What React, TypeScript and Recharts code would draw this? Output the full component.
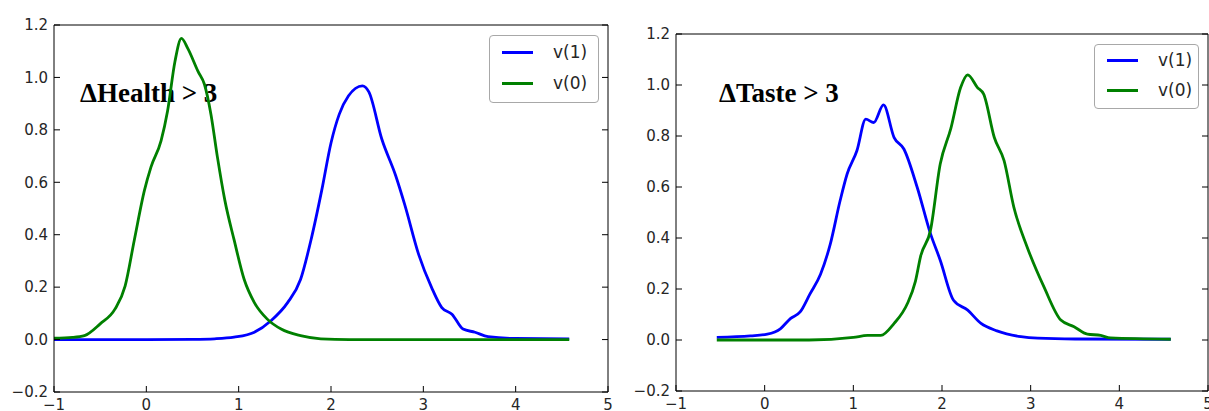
import React from 'react';
import { LineChart, Line, XAxis, YAxis, Legend } from 'recharts';

// ---- Data ----
const X_TICKS = [-1, 0, 1, 2, 3, 4, 5];
const Y_TICKS = [-0.2, 0, 0.2, 0.4, 0.6, 0.8, 1.0, 1.2];

// Left panel: ΔHealth > 3
const HEALTH_V1_X = [-1, 0, 0.5, 0.74, 0.95, 1.17, 1.35, 1.53, 1.67, 1.79, 1.9, 2.0, 2.09, 2.19, 2.34, 2.41, 2.55, 2.7, 2.8, 2.95, 3.09, 3.2, 3.31, 3.43, 3.56, 3.7, 4.0, 4.58];
const HEALTH_V1_Y = [0, 0, 0.001, 0.003, 0.009, 0.028, 0.072, 0.141, 0.229, 0.39, 0.57, 0.75, 0.86, 0.93, 0.968, 0.945, 0.765, 0.626, 0.513, 0.324, 0.198, 0.122, 0.097, 0.04, 0.028, 0.011, 0.004, 0.003];
const HEALTH_V0_X = [-1, -0.8, -0.67, -0.5, -0.34, -0.23, -0.13, -0.02, 0.05, 0.16, 0.23, 0.31, 0.38, 0.45, 0.56, 0.63, 0.7, 0.77, 0.85, 0.95, 1.06, 1.17, 1.31, 1.46, 1.67, 1.89, 2.2, 4.58];
const HEALTH_V0_Y = [0.005, 0.008, 0.015, 0.06, 0.116, 0.204, 0.38, 0.57, 0.658, 0.759, 0.872, 1.061, 1.149, 1.11, 1.023, 0.973, 0.859, 0.696, 0.532, 0.381, 0.229, 0.141, 0.078, 0.04, 0.015, 0.003, 0, 0];

// Right panel: ΔTaste > 3
const TASTE_V1_X = [-0.54, -0.16, 0.03, 0.18, 0.29, 0.4, 0.51, 0.63, 0.74, 0.85, 0.93, 1.04, 1.14, 1.23, 1.34, 1.46, 1.57, 1.72, 1.87, 1.98, 2.13, 2.29, 2.44, 2.62, 2.89, 3.08, 3.5, 4.58];
const TASTE_V1_Y = [0.01, 0.016, 0.023, 0.045, 0.084, 0.11, 0.18, 0.258, 0.376, 0.545, 0.651, 0.742, 0.866, 0.853, 0.922, 0.794, 0.749, 0.599, 0.417, 0.313, 0.156, 0.117, 0.065, 0.036, 0.013, 0.007, 0.004, 0.003];
const TASTE_V0_X = [-0.54, 0.5, 1.0, 1.16, 1.31, 1.46, 1.61, 1.7, 1.76, 1.87, 1.98, 2.1, 2.21, 2.29, 2.4, 2.47, 2.59, 2.7, 2.81, 2.96, 3.15, 3.34, 3.49, 3.64, 3.79, 3.9, 4.58];
const TASTE_V0_Y = [0, 0, 0.01, 0.018, 0.018, 0.065, 0.143, 0.23, 0.33, 0.43, 0.69, 0.83, 0.99, 1.04, 0.99, 0.964, 0.794, 0.703, 0.521, 0.365, 0.208, 0.078, 0.052, 0.023, 0.018, 0.008, 0.003];

const SERIES_NAMES = ['v(1)', 'v(0)'];
const SERIES_COLORS = ['#0000ff', '#008000'];
const TITLES = ['\u0394Health > 3', '\u0394Taste > 3'];

const zip = (xs: number[], ys: number[]) => xs.map((x, i) => ({ x, y: ys[i] }));

const fmtX = (v: number) => String(v).replace('-', '\u2212');
const fmtY = (v: number) => v.toFixed(1).replace('-', '\u2212');
const blank = () => '';

const TICK_STYLE = { fontSize: 15, fill: '#262626', fontFamily: 'DejaVu Sans, sans-serif' };
const LINE_W = 2.8;

type PanelProps = {
  width: number;
  height: number;
  axes: { top: number; left: number; right: number; bottom: number };
  v1: { x: number; y: number }[];
  v0: { x: number; y: number }[];
  title: string;
  titlePos: { x: number; y: number };
  legendBox: { left: number; top: number; w: number; h: number };
};

const makeLegend = (w: number, h: number) => () => {
  const rowGap = h * 0.455;
  const firstRow = h * 0.235;
  return (
    <div
      style={{
        position: 'relative',
        width: w,
        height: h,
        boxSizing: 'border-box',
        border: '1px solid #a8a8a8',
        borderRadius: 4,
        background: '#fff',
      }}
    >
      {SERIES_NAMES.map((name, i) => (
        <React.Fragment key={name}>
          <div
            style={{
              position: 'absolute',
              left: 12,
              top: Math.round(firstRow + i * rowGap) - 1.5,
              width: 31,
              height: 3,
              background: SERIES_COLORS[i],
            }}
          />
          <div
            style={{
              position: 'absolute',
              left: 63,
              top: firstRow + i * rowGap - 11,
              height: 22,
              lineHeight: '22px',
              fontSize: 17,
              fontFamily: 'DejaVu Sans, sans-serif',
              color: '#262626',
            }}
          >
            {name}
          </div>
        </React.Fragment>
      ))}
    </div>
  );
};

function Panel(p: PanelProps) {
  return (
    <LineChart width={p.width} height={p.height} margin={{ top: 0, left: 0, right: 0, bottom: 0 }}>
      <XAxis
        xAxisId={0}
        type="number"
        dataKey="x"
        domain={[-1, 5]}
        ticks={X_TICKS}
        interval={0}
        height={p.axes.bottom}
        tickSize={-6}
        tickMargin={13}
        stroke="#000"
        tick={TICK_STYLE}
        tickFormatter={fmtX}
        allowDataOverflow
      />
      <XAxis
        xAxisId="top"
        orientation="top"
        type="number"
        domain={[-1, 5]}
        ticks={X_TICKS}
        interval={0}
        height={p.axes.top}
        tickSize={-6}
        stroke="#000"
        tickFormatter={blank}
        allowDataOverflow
      />
      <YAxis
        yAxisId={0}
        type="number"
        domain={[-0.2, 1.2]}
        ticks={Y_TICKS}
        interval={0}
        width={p.axes.left}
        tickSize={-6}
        tickMargin={12}
        stroke="#000"
        tick={TICK_STYLE}
        tickFormatter={fmtY}
        allowDataOverflow
      />
      <YAxis
        yAxisId="right"
        orientation="right"
        type="number"
        domain={[-0.2, 1.2]}
        ticks={Y_TICKS}
        interval={0}
        width={p.axes.right}
        tickSize={-6}
        stroke="#000"
        tickFormatter={blank}
        allowDataOverflow
      />
      <Line
        data={p.v1}
        dataKey="y"
        name={SERIES_NAMES[0]}
        stroke={SERIES_COLORS[0]}
        strokeWidth={LINE_W}
        dot={false}
        activeDot={false}
        type="monotone"
        isAnimationActive={false}
      />
      <Line
        data={p.v0}
        dataKey="y"
        name={SERIES_NAMES[1]}
        stroke={SERIES_COLORS[1]}
        strokeWidth={LINE_W}
        dot={false}
        activeDot={false}
        type="monotone"
        isAnimationActive={false}
      />
      <Legend
        layout="horizontal"
        verticalAlign="middle"
        align="center"
        wrapperStyle={{ left: p.legendBox.left, top: p.legendBox.top, width: p.legendBox.w, height: p.legendBox.h }}
        content={makeLegend(p.legendBox.w, p.legendBox.h)}
      />
      <text
        x={p.titlePos.x}
        y={p.titlePos.y}
        fontFamily="Liberation Serif, Times New Roman, serif"
        fontWeight="bold"
        fontSize={27}
        fill="#000"
      >
        {p.title}
      </text>
    </LineChart>
  );
}

export default function App() {
  return (
    <div style={{ position: 'absolute', left: 0, top: 0, width: 1209, height: 411, background: '#fff', overflow: 'hidden' }}>
      <div style={{ position: 'absolute', left: 0, top: 0 }}>
        <Panel
          width={620}
          height={411}
          axes={{ top: 25, left: 54, right: 12, bottom: 19 }}
          v1={zip(HEALTH_V1_X, HEALTH_V1_Y)}
          v0={zip(HEALTH_V0_X, HEALTH_V0_Y)}
          title={TITLES[0]}
          titlePos={{ x: 80, y: 102 }}
          legendBox={{ left: 489, top: 35, w: 110, h: 68 }}
        />
      </div>
      <div style={{ position: 'absolute', left: 620, top: 0 }}>
        <Panel
          width={589}
          height={411}
          axes={{ top: 34, left: 56, right: 1, bottom: 20 }}
          v1={zip(TASTE_V1_X, TASTE_V1_Y)}
          v0={zip(TASTE_V0_X, TASTE_V0_Y)}
          title={TITLES[1]}
          titlePos={{ x: 99, y: 102 }}
          legendBox={{ left: 474, top: 44, w: 105, h: 65 }}
        />
      </div>
    </div>
  );
}
